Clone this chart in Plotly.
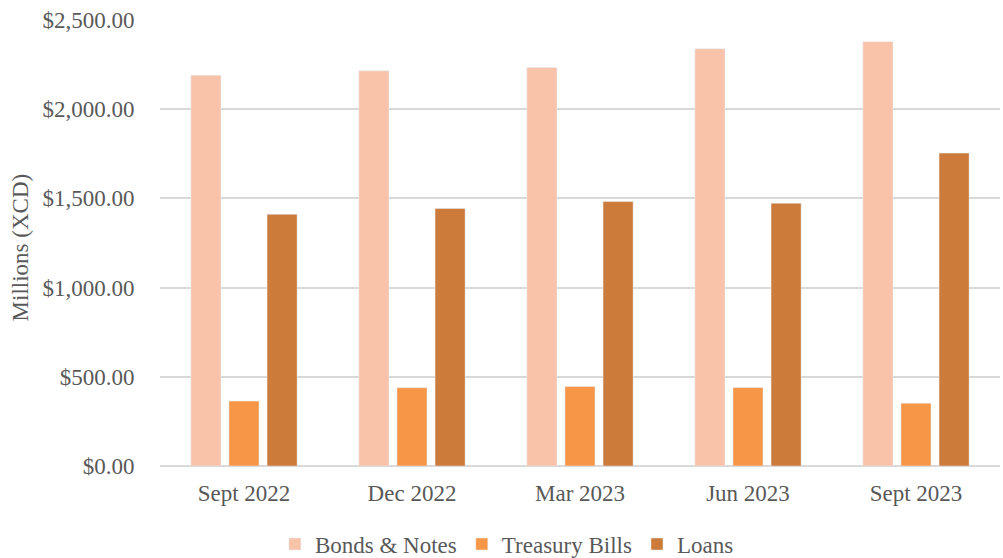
import plotly.graph_objects as go

categories = ["Sept 2022", "Dec 2022", "Mar 2023", "Jun 2023", "Sept 2023"]
bonds_notes = [2191, 2215, 2234, 2339, 2378]
treasury_bills = [364, 439, 446, 440, 352]
loans = [1411, 1443, 1482, 1473, 1754]
y_ticks = [0, 500, 1000, 1500, 2000, 2500]

font_family = "Liberation Serif"
text_color = "#595959"
fs = 23

fig = go.Figure()
fig.add_trace(go.Bar(name="Bonds & Notes", x=categories, y=bonds_notes, marker_color="#F9C3A9"))
fig.add_trace(go.Bar(name="Treasury Bills", x=categories, y=treasury_bills, marker_color="#F79646"))
fig.add_trace(go.Bar(name="Loans", x=categories, y=loans, marker_color="#CC7B3A"))

fig.update_layout(
    width=1003, height=558,
    margin=dict(l=160, r=3, t=20, b=92, autoexpand=False),
    paper_bgcolor="white", plot_bgcolor="white",
    barmode="group", bargap=0.32, bargroupgap=0.21,
    font=dict(family=font_family, size=fs, color=text_color),
    legend=dict(orientation="h", x=0.413, xanchor="center", yref="container", y=0.025,
                yanchor="middle", font=dict(size=fs, color=text_color), itemwidth=30,
                traceorder="normal"),
    showlegend=True,
    annotations=[dict(text="Millions (XCD)", textangle=-90, xref="paper", yref="paper",
                      x=-0.1667, y=0.49, xanchor="center", yanchor="middle",
                      showarrow=False, font=dict(size=fs, color=text_color))],
)
fig.update_xaxes(showgrid=False, showline=False, automargin=False,
                 ticks="outside", ticklen=6, tickcolor="rgba(0,0,0,0)",
                 tickfont=dict(size=fs, color=text_color))
fig.update_yaxes(
    range=[0, 2500], tickvals=y_ticks, automargin=False,
    ticktext=["$" + format(v, ",.2f") for v in y_ticks],
    showgrid=True, gridcolor="#D9D9D9", gridwidth=1.5,
    zeroline=True, zerolinecolor="#D9D9D9", zerolinewidth=1.5,
    tickfont=dict(size=fs, color=text_color),
    ticks="outside", ticklen=20, tickcolor="rgba(0,0,0,0)",
)

fig.write_html("out.html", config={"displayModeBar": False},
               post_script="document.body.style.margin='0';")
